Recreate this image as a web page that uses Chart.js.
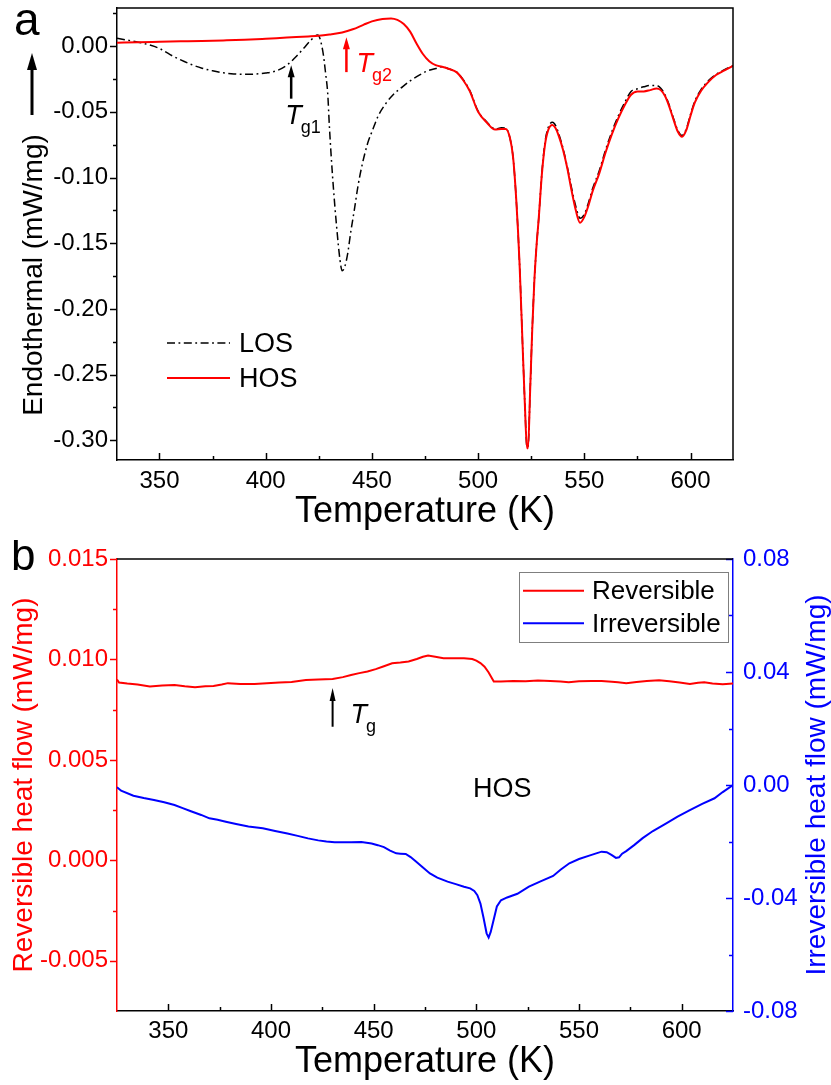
<!DOCTYPE html>
<html>
<head>
<meta charset="utf-8">
<script src="https://cdn.jsdelivr.net/npm/chart.js@4.4.1/dist/chart.umd.min.js"></script>
<style>
  html, body { margin: 0; padding: 0; background: #fff; }
  #wrap { position: relative; width: 831px; height: 1085px; }
  canvas { position: absolute; left: 0; }
  #cA { top: 0; }
  #cB { top: 540px; }
</style>
</head>
<body>
<div id="wrap">
  <canvas id="cA" width="831" height="540"></canvas>
  <canvas id="cB" width="831" height="545"></canvas>
</div>
<script>
// ---- (a) DSC scans, LOS and HOS ----
const losT = [330, 335, 340, 345, 350, 355, 360, 365, 370, 375, 380, 385, 390, 395, 400, 405, 410,
  414, 418, 421, 424.5, 426.8, 428.3, 429.2, 430, 431.5, 433.4, 435, 436, 437.2, 438.6,
  440, 441.7, 443.5, 445.6, 448, 450.3, 453, 456.6, 460, 464.4, 468, 472.3, 476, 480.1, 483.3,
  486, 490, 493, 496, 500, 504, 508, 511, 513, 515, 516.5, 518, 519.5, 521, 522, 523, 523.5,
  524.5, 525.5, 526.5, 527.5, 528.5, 530, 531.5, 533, 535, 536.5, 538, 540, 542, 544, 546, 548,
  550, 552, 554, 557, 560, 563, 566, 569, 572, 575, 578, 581, 584, 586, 588, 590, 592, 594, 596,
  598, 600, 602, 605, 608, 612, 616, 620];
const losHeat = [0.0060, 0.0045, 0.0030, 0.0010, -0.0018, -0.0065, -0.0105, -0.0140, -0.0168,
  -0.0188, -0.0203, -0.0212, -0.0215, -0.0213, -0.0205, -0.0188, -0.0145,
  -0.0085, -0.0015, 0.0040, 0.0084, -0.0030, -0.0220, -0.0360, -0.0614, -0.0995, -0.1375,
  -0.1630, -0.1710, -0.1680, -0.1580,
  -0.1420, -0.1250, -0.1060, -0.0890, -0.0740, -0.0640, -0.0530, -0.0436, -0.0370, -0.0310,
  -0.0265, -0.0221, -0.0190, -0.0170, -0.0157,
  -0.0172, -0.0200, -0.0255, -0.0335, -0.0495, -0.0575, -0.0630, -0.0622, -0.0625, -0.0700,
  -0.085, -0.118, -0.165, -0.230, -0.272, -0.305, -0.305, -0.262, -0.215, -0.178,
  -0.152, -0.132, -0.097, -0.073, -0.062, -0.058, -0.0605, -0.067, -0.078, -0.092,
  -0.108, -0.122, -0.131, -0.128, -0.119, -0.108, -0.095, -0.079, -0.065, -0.053,
  -0.043, -0.0345, -0.0325, -0.031, -0.030, -0.030, -0.032, -0.037, -0.045, -0.055,
  -0.064, -0.068, -0.063, -0.052, -0.042, -0.033, -0.027, -0.0215, -0.018, -0.0148];

const hosT = [330, 340, 350, 360, 370, 380, 390, 400, 410, 420, 425, 430, 436, 441, 446, 450,
  455, 459, 462, 465, 468, 471, 474, 477, 480, 483, 486, 490, 493, 496, 500, 504, 508, 511, 513,
  515, 516.5, 518, 519.5, 521, 522, 523, 523.5, 524.5, 525.5, 526.5, 527.5, 528.5, 530, 531.5,
  533, 535, 536.5, 538, 540, 542, 544, 546, 548, 550, 552, 554, 557, 560, 563, 566, 569, 572,
  575, 578, 581, 584, 586, 588, 590, 592, 594, 596, 598, 600, 602, 605, 608, 612, 616, 620];
const hosHeat = [0.0025, 0.0030, 0.0033, 0.0036, 0.0039, 0.0043, 0.0048, 0.0056, 0.0065, 0.0073,
  0.0078, 0.0088, 0.0104, 0.0128, 0.0162, 0.0188, 0.0207, 0.0211, 0.0200, 0.0168,
  0.0110, 0.0020, -0.0060, -0.0115, -0.0145, -0.0157, -0.0172, -0.0200, -0.0260, -0.0340,
  -0.0500, -0.0580, -0.0635, -0.0630, -0.0630, -0.0700, -0.085, -0.118, -0.165, -0.230,
  -0.272, -0.306, -0.306, -0.262, -0.215, -0.178, -0.152, -0.132, -0.098, -0.075,
  -0.064, -0.0601, -0.0625, -0.0685, -0.079, -0.093, -0.110, -0.125, -0.1345, -0.130,
  -0.121, -0.110, -0.097, -0.081, -0.067, -0.055, -0.045, -0.037, -0.0345, -0.0345,
  -0.0335, -0.0322, -0.0335, -0.038, -0.046, -0.056, -0.065, -0.069, -0.064, -0.053,
  -0.043, -0.034, -0.028, -0.022, -0.0185, -0.0150];

const aTempTicks = [350, 400, 450, 500, 550, 600];
const aHeatTicks = [-0.30, -0.25, -0.20, -0.15, -0.10, -0.05, 0.00];
const tg1 = 412, tg2 = 438;   // K

// ---- (b) modulated DSC of HOS ----
const revT = [325, 326, 330, 335, 341, 347, 353, 358, 363, 368, 372, 376, 379, 385, 392, 398,
  404, 410, 417, 423, 430, 435, 439, 443, 447, 451, 455, 459, 463, 467, 471, 474, 476.5, 480,
  484, 489, 494, 498, 500, 502, 504, 506, 508.5, 512, 518, 524, 530, 536, 541, 545, 550, 556,
  561, 566, 569, 573, 578, 583, 589, 594, 599, 604, 608, 611, 615, 620, 625];
const revHeat = [0.00900, 0.00885, 0.00880, 0.00875, 0.00865, 0.00870, 0.00873, 0.00866, 0.00862,
  0.00866, 0.00868, 0.00875, 0.00882, 0.00878, 0.00878, 0.00882, 0.00885, 0.00888, 0.00898,
  0.00900, 0.00903, 0.00912, 0.00923, 0.00932, 0.00940, 0.00952, 0.00966, 0.00981, 0.00985,
  0.00990, 0.01002, 0.01013, 0.01019, 0.01013, 0.01006, 0.01006, 0.01006, 0.01002, 0.00994,
  0.00982, 0.00964, 0.00935, 0.00890, 0.00890, 0.00893, 0.00891, 0.00895, 0.00893, 0.00890,
  0.00887, 0.00892, 0.00893, 0.00893, 0.00889, 0.00886, 0.00882, 0.00888, 0.00893, 0.00897,
  0.00892, 0.00885, 0.00878, 0.00884, 0.00887, 0.00880, 0.00877, 0.00880];

const irrT = [325, 327, 333, 338, 343, 348, 353, 357, 361, 366, 370, 374, 378, 383, 389, 396,
  402, 408, 413, 418, 423, 427, 431, 435, 439, 444, 449, 452, 455, 458, 461, 463, 465.6, 468,
  470.6, 474, 477.4, 481, 486, 490, 494, 497, 499, 500.5, 502, 503.5, 505, 506, 507, 508.5,
  510, 512, 515, 520, 525.6, 531, 537.4, 541, 545.3, 550, 555, 558, 561, 563.5, 566, 568,
  569.5, 571, 573, 577, 581, 586, 592.5, 598, 604, 610, 616, 620, 625];
const irrHeat = [-0.0008, -0.0020, -0.0038, -0.0046, -0.0053, -0.0061, -0.0071, -0.0082, -0.0093,
  -0.0106, -0.0118, -0.0123, -0.0130, -0.0138, -0.0147, -0.0153, -0.0163, -0.0172, -0.0180,
  -0.0189, -0.0196, -0.0200, -0.0203, -0.0203, -0.0203, -0.0202, -0.0207, -0.0213, -0.0220,
  -0.0232, -0.0242, -0.0243, -0.0244, -0.0255, -0.0271, -0.0292, -0.0313, -0.0328, -0.0342,
  -0.0351, -0.0360, -0.0366, -0.0375, -0.0390, -0.0420, -0.0470, -0.0525, -0.0540, -0.0520,
  -0.0475, -0.0430, -0.0408, -0.0398, -0.0385, -0.0360, -0.0342, -0.0322, -0.0300, -0.0277,
  -0.0262, -0.0250, -0.0243, -0.0236, -0.0238, -0.0248, -0.0258, -0.0256, -0.0243, -0.0234,
  -0.0212, -0.0188, -0.0163, -0.0136, -0.0112, -0.0089, -0.0067, -0.0047, -0.0025, 0.0000];

const bTempTicks = [350, 400, 450, 500, 550, 600];
const bRevTicks = [-0.005, 0.000, 0.005, 0.010, 0.015];
const bIrrTicks = [-0.08, -0.04, 0.00, 0.04, 0.08];
const tgB = 430;   // K

// ---- helpers ----
const FONT = "'Liberation Sans', Arial, sans-serif";
const RED = '#ff0000', BLUE = '#0000ff', BLACK = '#000000';
const xy = (xs, ys) => xs.map((x, i) => ({ x, y: ys[i] }));
const setTicks = vals => s => { s.ticks = vals.map(v => ({ value: v })); };
const fitW = w => s => { s.width = w; s.paddingTop = 0; s.paddingBottom = 0; };
const fitH = h => s => { s.height = h; s.paddingLeft = 0; s.paddingRight = 0; };
const tickFont = { family: FONT, size: 24 };

function minorsOf(majors, lo, hi) {
  const step = majors[1] - majors[0];
  const out = [];
  for (let v = majors[0] - step / 2; v < hi; v += step) {
    if (v > lo + step * 0.01 && v < hi - step * 0.01 && !majors.some(m => Math.abs(m - v) < step * 0.01)) out.push(v);
  }
  return out;
}

// y ticks stick out to the left of their axis line, x ticks point up into the plot
const tickMarks = {
  id: 'tickMarks',
  afterDraw(chart) {
    const ctx = chart.ctx;
    ctx.save();
    ctx.lineWidth = 1.5;
    Object.values(chart.scales).forEach(s => {
      const majors = s.ticks.map(t => t.value);
      const minors = minorsOf(majors, s.min, s.max);
      ctx.strokeStyle = s.options.border.color;
      const mark = (v, len) => {
        const p = Math.round(s.getPixelForValue(v)) + 0.5;
        ctx.beginPath();
        if (s.isHorizontal()) {
          ctx.moveTo(p, s.top); ctx.lineTo(p, s.top - len);
        } else {
          const x0 = s.position === 'left' ? s.right : s.left;
          ctx.moveTo(x0, p); ctx.lineTo(x0 - len, p);
        }
        ctx.stroke();
      };
      majors.forEach(v => mark(v, 7));
      minors.forEach(v => mark(v, 4));
    });
    ctx.restore();
  }
};

function text(ctx, str, x, y, font, color, align) {
  ctx.save();
  ctx.font = font; ctx.fillStyle = color;
  ctx.textAlign = align || 'left'; ctx.textBaseline = 'alphabetic';
  ctx.fillText(str, x, y);
  ctx.restore();
}
function vtext(ctx, str, x, y, font, color) {
  ctx.save();
  ctx.translate(x, y); ctx.rotate(-Math.PI / 2);
  ctx.font = font; ctx.fillStyle = color;
  ctx.textAlign = 'center'; ctx.textBaseline = 'alphabetic';
  ctx.fillText(str, 0, 0);
  ctx.restore();
}
function tSub(ctx, sub, x, y, color) {
  ctx.save();
  ctx.fillStyle = color;
  ctx.font = `italic 27px ${FONT}`;
  ctx.fillText('T', x, y);
  const w = ctx.measureText('T').width;
  ctx.font = `18px ${FONT}`;
  ctx.fillText(sub, x + w - 1, y + 9);
  ctx.restore();
}
function arrow(ctx, x, yTail, yTip, color, lw, headW, headL) {
  ctx.save();
  ctx.strokeStyle = color; ctx.fillStyle = color; ctx.lineWidth = lw;
  ctx.beginPath(); ctx.moveTo(x, yTail); ctx.lineTo(x, yTip + headL - 1); ctx.stroke();
  ctx.beginPath();
  ctx.moveTo(x, yTip); ctx.lineTo(x - headW / 2, yTip + headL); ctx.lineTo(x + headW / 2, yTip + headL);
  ctx.closePath(); ctx.fill();
  ctx.restore();
}
function hline(ctx, x1, x2, y, color, lw, dash) {
  ctx.save();
  ctx.strokeStyle = color; ctx.lineWidth = lw; ctx.setLineDash(dash || []);
  ctx.beginPath(); ctx.moveTo(x1, y); ctx.lineTo(x2, y); ctx.stroke();
  ctx.restore();
}

const LOS_DASH = [8, 3.5, 1.8, 3.5];

// ---- chart a ----
const notesA = {
  id: 'notesA',
  afterDraw(chart) {
    const { ctx, chartArea: ca, scales: { x, y } } = chart;
    // frame top/right
    ctx.save();
    ctx.strokeStyle = BLACK; ctx.lineWidth = 1.5;
    ctx.beginPath(); ctx.moveTo(ca.left, ca.top); ctx.lineTo(ca.right, ca.top); ctx.lineTo(ca.right, ca.bottom); ctx.stroke();
    ctx.restore();

    text(ctx, 'a', 14, 35, `46px ${FONT}`, BLACK);
    text(ctx, 'Temperature (K)', (ca.left + ca.right) / 2, ca.bottom + 62, `36px ${FONT}`, BLACK, 'center');
    vtext(ctx, 'Endothermal (mW/mg)', 42, 275, `28px ${FONT}`, BLACK);
    arrow(ctx, 32, 115, 53, BLACK, 3, 10, 17);

    // glass transitions
    const x1 = x.getPixelForValue(tg1), t1 = y.getPixelForValue(-0.040), h1 = y.getPixelForValue(-0.0145);
    arrow(ctx, x1, t1, h1, BLACK, 2.5, 7, 12);
    tSub(ctx, 'g1', x1 - 6, t1 + 25, BLACK);
    const x2 = x.getPixelForValue(tg2), t2 = y.getPixelForValue(-0.0198), h2 = y.getPixelForValue(0.0068);
    arrow(ctx, x2, t2, h2, RED, 2.5, 7, 12);
    tSub(ctx, 'g2', x2 + 10, t2, RED);

    // legend
    const ds = chart.data.datasets;
    [[ds[0], 343, 352], [ds[1], 378, 387]].forEach(([d, ly, ty]) => {
      hline(ctx, 167, 230, ly, d.borderColor, d.borderWidth, d.borderDash);
      text(ctx, d.label, 239, ty, `27px ${FONT}`, BLACK);
    });
  }
};

new Chart(document.getElementById('cA'), {
  type: 'line',
  data: {
    datasets: [
      { label: 'LOS', data: xy(losT, losHeat), borderColor: BLACK, borderWidth: 1.5, borderDash: LOS_DASH,
        pointRadius: 0, cubicInterpolationMode: 'monotone', order: 2 },
      { label: 'HOS', data: xy(hosT, hosHeat), borderColor: RED, borderWidth: 2,
        pointRadius: 0, cubicInterpolationMode: 'monotone', order: 1 }
    ]
  },
  options: {
    responsive: false, animation: false,
    layout: { padding: { top: 8, right: 98, left: 0, bottom: 0 } },
    plugins: { legend: { display: false }, tooltip: { enabled: false } },
    scales: {
      x: {
        type: 'linear', min: 330, max: 620,
        afterBuildTicks: setTicks(aTempTicks), afterFit: fitH(80),
        grid: { display: false, drawTicks: false },
        border: { display: true, color: BLACK, width: 1.5 },
        ticks: { font: tickFont, color: BLACK, padding: 7, maxRotation: 0, autoSkip: false }
      },
      y: {
        type: 'linear', min: -0.315, max: 0.029,
        afterBuildTicks: setTicks(aHeatTicks), afterFit: fitW(117),
        grid: { display: false, drawTicks: false },
        border: { display: true, color: BLACK, width: 1.5 },
        ticks: { font: tickFont, color: BLACK, padding: 9, autoSkip: false, callback: v => v.toFixed(2) }
      }
    }
  },
  plugins: [tickMarks, notesA]
});

// ---- chart b ----
const notesB = {
  id: 'notesB',
  afterDraw(chart) {
    const { ctx, chartArea: ca, scales: { x, y } } = chart;
    hline(ctx, ca.left, ca.right, ca.top, BLACK, 1.5);

    text(ctx, 'b', 11, 30, `44px ${FONT}`, BLACK);
    text(ctx, 'Temperature (K)', (ca.left + ca.right) / 2, ca.bottom + 61, `36px ${FONT}`, BLACK, 'center');
    const cy = (ca.top + ca.bottom) / 2;
    vtext(ctx, 'Reversible heat flow (mW/mg)', 32, cy, `28px ${FONT}`, RED);
    vtext(ctx, 'Irreversible heat flow (mW/mg)', 825, cy, `28px ${FONT}`, BLUE);

    const xa = x.getPixelForValue(tgB), ta = y.getPixelForValue(0.00665), ha = y.getPixelForValue(0.00858);
    arrow(ctx, xa, ta, ha, BLACK, 2, 6, 13);
    tSub(ctx, 'g', xa + 18, ta - 4, BLACK);

    text(ctx, 'HOS', 473, 257, `27px ${FONT}`, BLACK);

    // legend box
    ctx.save();
    ctx.strokeStyle = '#7f7f7f'; ctx.lineWidth = 1;
    ctx.strokeRect(519.5, 32.5, 209, 70);
    ctx.restore();
    const ds = chart.data.datasets;
    [[ds[0], 50.7, 59], [ds[1], 83.3, 91.7]].forEach(([d, ly, ty]) => {
      hline(ctx, 523, 584, ly, d.borderColor, 2);
      text(ctx, d.label, 592, ty, `26px ${FONT}`, BLACK);
    });
  }
};

new Chart(document.getElementById('cB'), {
  type: 'line',
  data: {
    datasets: [
      { label: 'Reversible', data: xy(revT, revHeat), yAxisID: 'y', borderColor: RED, borderWidth: 2,
        pointRadius: 0, tension: 0 },
      { label: 'Irreversible', data: xy(irrT, irrHeat), yAxisID: 'y2', borderColor: BLUE, borderWidth: 2,
        pointRadius: 0, tension: 0 }
    ]
  },
  options: {
    responsive: false, animation: false,
    layout: { padding: { top: 19, right: 0, left: 0, bottom: 0 } },
    plugins: { legend: { display: false }, tooltip: { enabled: false } },
    scales: {
      x: {
        type: 'linear', min: 325, max: 625,
        afterBuildTicks: setTicks(bTempTicks), afterFit: fitH(74),
        grid: { display: false, drawTicks: false },
        border: { display: true, color: BLACK, width: 1.5 },
        ticks: { font: tickFont, color: BLACK, padding: 6, maxRotation: 0, autoSkip: false }
      },
      y: {
        type: 'linear', position: 'left', min: -0.0075, max: 0.015,
        afterBuildTicks: setTicks(bRevTicks), afterFit: fitW(117),
        grid: { display: false, drawTicks: false },
        border: { display: true, color: RED, width: 1.5 },
        ticks: { font: tickFont, color: RED, padding: 9, autoSkip: false, callback: v => v.toFixed(3) }
      },
      y2: {
        type: 'linear', position: 'right', min: -0.08, max: 0.08,
        afterBuildTicks: setTicks(bIrrTicks), afterFit: fitW(98),
        grid: { display: false, drawTicks: false },
        border: { display: true, color: BLUE, width: 1.5 },
        ticks: { font: tickFont, color: BLUE, padding: 10, autoSkip: false, callback: v => v.toFixed(2) }
      }
    }
  },
  plugins: [tickMarks, notesB]
});
</script>
</body>
</html>
